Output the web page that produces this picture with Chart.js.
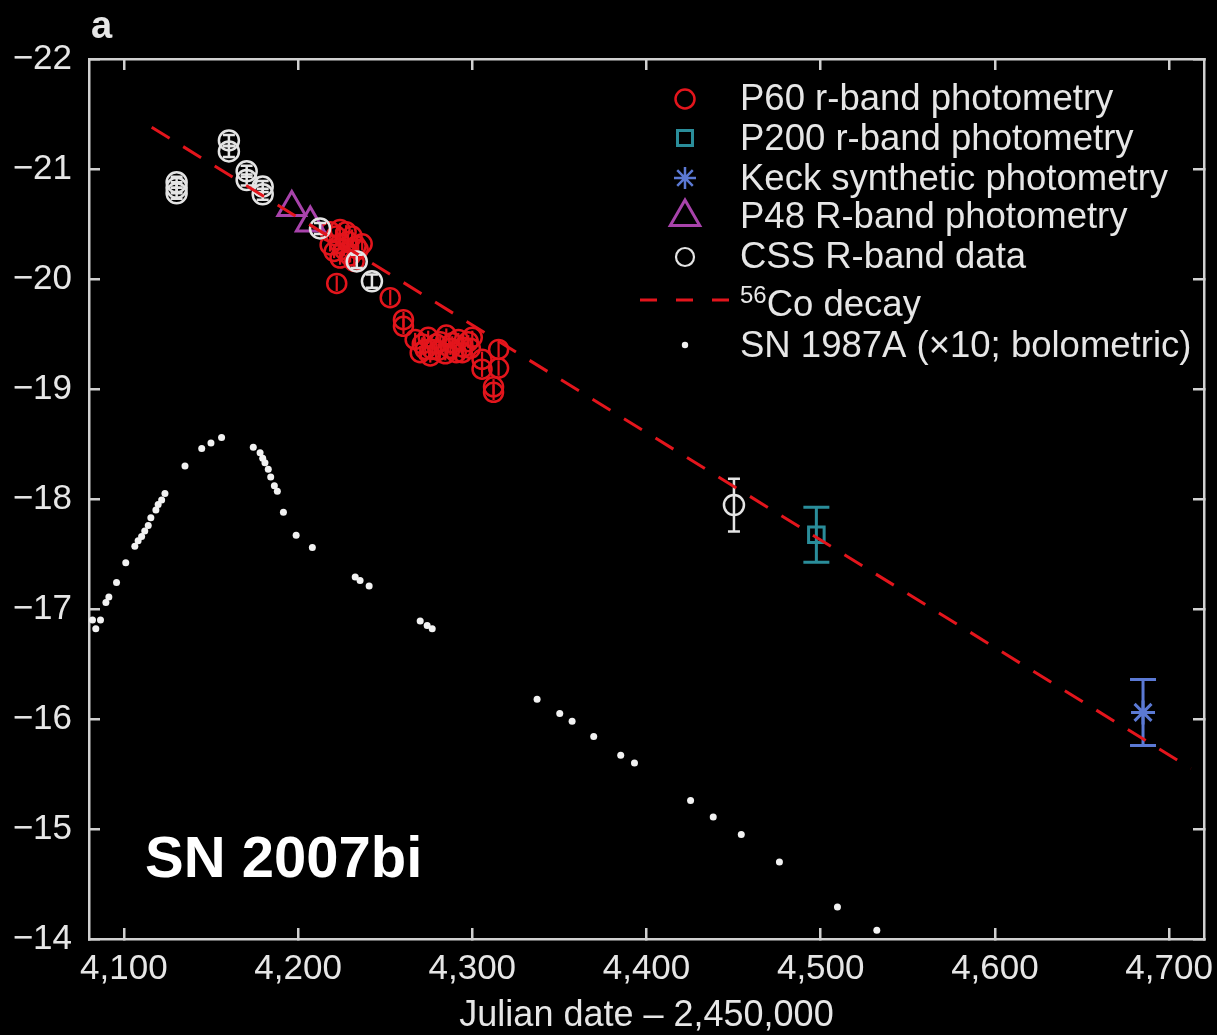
<!DOCTYPE html>
<html>
<head>
<meta charset="utf-8">
<title>SN 2007bi light curve</title>
<script src="https://cdn.jsdelivr.net/npm/chart.js@4.4.0/dist/chart.umd.min.js"></script>
<style>
  html, body { margin: 0; padding: 0; background: #000; }
  canvas { display: block; }
</style>
</head>
<body>
<canvas id="lc" width="1217" height="1035"></canvas>
<script>
// Days are Julian date − 2,450,000; values are absolute magnitudes (brighter = more negative).

// P60 r-band photometry
const p60Day = [4218.4, 4221.8, 4224.1, 4227.6, 4231.0, 4228.7, 4224.1, 4218.4, 4220.7, 4226.4,
                4233.3, 4236.8, 4234.5, 4229.9, 4224.1, 4232.2, 4222.2, 4252.9, 4260.5, 4260.5,
                4267.2, 4271.3, 4274.7, 4277.0, 4281.6, 4285.1, 4288.5, 4292.0, 4294.8, 4297.7,
                4300.0, 4270.1, 4275.9, 4280.5, 4284.5, 4287.4, 4290.8, 4294.3, 4298.9, 4279.3,
                4273.0, 4305.6, 4305.6, 4315.1, 4315.1, 4312.2, 4312.2];
const p60Mag = [-20.43, -20.39, -20.45, -20.43, -20.39, -20.34, -20.32, -20.31, -20.25, -20.27,
                -20.30, -20.32, -20.27, -20.21, -20.19, -20.16, -19.96, -19.83, -19.63, -19.57,
                -19.45, -19.41, -19.47, -19.36, -19.43, -19.49, -19.42, -19.45, -19.38, -19.43,
                -19.47, -19.33, -19.30, -19.35, -19.32, -19.37, -19.33, -19.33, -19.37, -19.41,
                -19.36, -19.27, -19.18, -19.36, -19.19, -19.02, -18.97];
const p60Err = [0.06, 0.06, 0.06, 0.06, 0.06, 0.06, 0.06, 0.06, 0.06, 0.06,
                0.06, 0.06, 0.06, 0.06, 0.06, 0.06, 0.07, 0.07, 0.07, 0.07,
                0.06, 0.06, 0.06, 0.06, 0.06, 0.06, 0.06, 0.06, 0.06, 0.06,
                0.06, 0.06, 0.06, 0.06, 0.06, 0.06, 0.06, 0.06, 0.06, 0.06,
                0.06, 0.07, 0.07, 0.07, 0.07, 0.07, 0.07];

// P200 r-band photometry
const p200Day = [4497.5];
const p200Mag = [-17.675];
const p200Err = [0.25];

// Keck synthetic photometry
const keckDay = [4685.0];
const keckMag = [-16.06];
const keckErr = [0.30];

// P48 R-band photometry
const p48Day = [4196.4, 4207.0];
const p48Mag = [-20.65, -20.51];

// CSS R-band data
const cssDay = [4130.3, 4130.3, 4130.3, 4160.3, 4160.3, 4170.5, 4170.5, 4179.7, 4179.7,
                4212.6, 4233.7, 4242.4, 4450.2];
const cssMag = [-20.88, -20.83, -20.78, -21.26, -21.16, -20.98, -20.90, -20.84, -20.77,
                -20.46, -20.16, -19.98, -17.945];
const cssErr = [0.05, 0.05, 0.05, 0.05, 0.05, 0.05, 0.05, 0.05, 0.05,
                0.05, 0.06, 0.06, 0.24];

// 56Co decay line (end points)
const coDay = [4116.0, 4712.5];
const coMag = [-21.38, -15.55];

// SN 1987A (x10; bolometric)
const sn87Day = [4082.0, 4083.9, 4086.6, 4089.7, 4091.4, 4095.8, 4101.1, 4106.3, 4108.2, 4110.2,
                 4112.0, 4114.0, 4115.5, 4118.4, 4119.7, 4121.7, 4123.6, 4135.1, 4144.7, 4150.0,
                 4156.1, 4174.3, 4178.2, 4179.7, 4181.0, 4182.9, 4184.3, 4186.4, 4188.1, 4191.6,
                 4198.9, 4208.2, 4232.8, 4235.6, 4240.8, 4270.1, 4274.1, 4277.0, 4337.2, 4350.2,
                 4357.3, 4369.7, 4385.2, 4393.1, 4425.3, 4438.3, 4454.4, 4476.3, 4509.6, 4532.2];
const sn87Mag = [-16.90, -16.82, -16.90, -17.06, -17.11, -17.24, -17.42, -17.57, -17.62, -17.66,
                 -17.71, -17.76, -17.83, -17.90, -17.95, -17.99, -18.05, -18.30, -18.46, -18.51,
                 -18.56, -18.47, -18.42, -18.37, -18.33, -18.27, -18.20, -18.12, -18.07, -17.88,
                 -17.67, -17.56, -17.29, -17.26, -17.21, -16.89, -16.85, -16.82, -16.18, -16.05,
                 -15.98, -15.84, -15.67, -15.60, -15.26, -15.11, -14.95, -14.70, -14.29, -14.08];

// Axis ticks
const xTicks = [4100, 4200, 4300, 4400, 4500, 4600, 4700];
const xTickLabels = ['4,100', '4,200', '4,300', '4,400', '4,500', '4,600', '4,700'];
const yTicks = [-22, -21, -20, -19, -18, -17, -16, -15, -14];
const yTickLabels = ['\u221222', '\u221221', '\u221220', '\u221219', '\u221218', '\u221217', '\u221216', '\u221215', '\u221214'];

const legendLabels = ['P60 r-band photometry', 'P200 r-band photometry', 'Keck synthetic photometry',
                      'P48 R-band photometry', 'CSS R-band data', 'Co decay', 'SN 1987A (\u00d710; bolometric)'];

const RED = '#e3151c';
const TEAL = '#2a8d9a';
const BLUE = '#5b79d4';
const PURPLE = '#a843ab';
const WHITE = '#e4e4e4';
const AXIS = '#d0d0d0';
const TEXT = '#e6e6e6';
const FONT = '"Liberation Sans", Arial, Helvetica, sans-serif';

const pts = (xs, ys) => xs.map((x, i) => ({ x: x, y: ys[i] }));

// Vertical error bars, drawn right after their own dataset so stacking order is kept
const errorBarPlugin = {
  id: 'errorBars',
  afterDatasetDraw(chart, args) {
    const ds = chart.data.datasets[args.index];
    if (!ds.yErrors) return;
    const ctx = chart.ctx;
    const xs = chart.scales.x, ys = chart.scales.y;
    ctx.save();
    ctx.strokeStyle = ds.borderColor;
    ctx.lineWidth = ds.errorWidth || 2.5;
    ds.data.forEach((p, i) => {
      const e = ds.yErrors[i];
      const px = xs.getPixelForValue(p.x);
      const y1 = ys.getPixelForValue(p.y - e);
      const y2 = ys.getPixelForValue(p.y + e);
      ctx.beginPath();
      ctx.moveTo(px, y1);
      ctx.lineTo(px, y2);
      const c = ds.capHalf || 0;
      if (c > 0) {
        ctx.moveTo(px - c, y1); ctx.lineTo(px + c, y1);
        ctx.moveTo(px - c, y2); ctx.lineTo(px + c, y2);
      }
      ctx.stroke();
    });
    ctx.restore();
  }
};

// Panel letter, object name and the key
const annotationPlugin = {
  id: 'annotations',
  afterDraw(chart) {
    const ctx = chart.ctx;
    ctx.save();
    ctx.fillStyle = TEXT;
    ctx.textBaseline = 'alphabetic';
    ctx.textAlign = 'left';
    ctx.font = 'bold 38px ' + FONT;
    ctx.fillText('a', 91, 38);

    ctx.fillStyle = '#ffffff';
    ctx.font = 'bold 58px ' + FONT;
    ctx.fillText('SN 2007bi', 145, 877);

    // key
    const mx = 685, tx = 740;
    const rows = [99, 138, 178, 217, 257, 300, 345];
    const base = [110, 150, 190, 228, 268, 316, 357];
    ctx.lineWidth = 2.5;
    // P60 circle
    ctx.strokeStyle = RED;
    ctx.beginPath(); ctx.arc(mx, rows[0], 9.5, 0, Math.PI * 2); ctx.stroke();
    // P200 square
    ctx.strokeStyle = TEAL; ctx.lineWidth = 3;
    ctx.strokeRect(mx - 7.5, rows[1] - 7.5, 15, 15);
    // Keck star
    ctx.strokeStyle = BLUE; ctx.lineWidth = 2.5;
    ctx.beginPath();
    for (let k = 0; k < 4; k++) {
      const a = k * Math.PI / 4;
      ctx.moveTo(mx - 11 * Math.cos(a), rows[2] - 11 * Math.sin(a));
      ctx.lineTo(mx + 11 * Math.cos(a), rows[2] + 11 * Math.sin(a));
    }
    ctx.stroke();
    // P48 triangle
    ctx.strokeStyle = PURPLE; ctx.lineWidth = 3;
    const r = 17;
    ctx.beginPath();
    ctx.moveTo(mx, rows[3] - r);
    ctx.lineTo(mx + r * Math.sin(Math.PI / 3), rows[3] + r / 2);
    ctx.lineTo(mx - r * Math.sin(Math.PI / 3), rows[3] + r / 2);
    ctx.closePath(); ctx.stroke();
    // CSS circle
    ctx.strokeStyle = WHITE; ctx.lineWidth = 2.2;
    ctx.beginPath(); ctx.arc(mx, rows[4], 9, 0, Math.PI * 2); ctx.stroke();
    // Co decay dashes
    ctx.strokeStyle = RED; ctx.lineWidth = 3;
    ctx.setLineDash([17, 19]);
    ctx.beginPath(); ctx.moveTo(640, rows[5]); ctx.lineTo(730, rows[5]); ctx.stroke();
    ctx.setLineDash([]);
    // SN 1987A dot
    ctx.fillStyle = '#f2f2f2';
    ctx.beginPath(); ctx.arc(mx, rows[6], 3.2, 0, Math.PI * 2); ctx.fill();

    ctx.fillStyle = TEXT;
    ctx.font = '36.5px ' + FONT;
    legendLabels.forEach((t, i) => {
      if (i === 5) {
        ctx.font = '24px ' + FONT;
        ctx.fillText('56', tx, base[i] - 13);
        const w = ctx.measureText('56').width;
        ctx.font = '36.5px ' + FONT;
        ctx.fillText(t, tx + w, base[i]);
      } else {
        ctx.fillText(t, tx, base[i]);
      }
    });
    ctx.restore();
  }
};

const tickSetterX = (s) => { s.ticks = xTicks.map(v => ({ value: v })); };
const tickSetterY = (s) => { s.ticks = yTicks.map(v => ({ value: v })); };

const frameGrid = { drawOnChartArea: false, drawTicks: true, tickLength: -11, color: AXIS, lineWidth: 2.5 };
const frameBorder = { display: true, color: AXIS, width: 2.5 };

new Chart(document.getElementById('lc'), {
  type: 'scatter',
  data: {
    datasets: [
      {
        label: '56Co decay', data: pts(coDay, coMag), showLine: true,
        borderColor: RED, borderWidth: 3, borderDash: [21, 16], pointRadius: 0, fill: false
      },
      {
        label: 'CSS R-band data', data: pts(cssDay, cssMag),
        pointStyle: 'circle', pointRadius: 10, borderColor: WHITE, borderWidth: 2.5,
        backgroundColor: 'rgba(0,0,0,0)', yErrors: cssErr, capHalf: 6, errorWidth: 2.5
      },
      {
        label: 'P48 R-band photometry', data: pts(p48Day, p48Mag),
        pointStyle: 'triangle', pointRadius: 16, borderColor: PURPLE, borderWidth: 3,
        backgroundColor: 'rgba(0,0,0,0)'
      },
      {
        label: 'P60 r-band photometry', data: pts(p60Day, p60Mag),
        pointStyle: 'circle', pointRadius: 9.5, borderColor: RED, borderWidth: 2.5,
        backgroundColor: 'rgba(0,0,0,0)', yErrors: p60Err, capHalf: 0, errorWidth: 2.2
      },
      {
        label: 'P200 r-band photometry', data: pts(p200Day, p200Mag),
        pointStyle: 'rect', pointRadius: 11, borderColor: TEAL, borderWidth: 3,
        backgroundColor: 'rgba(0,0,0,0)', yErrors: p200Err, capHalf: 13, errorWidth: 3
      },
      {
        label: 'Keck synthetic photometry', data: pts(keckDay, keckMag),
        pointStyle: 'star', pointRadius: 12, borderColor: BLUE, borderWidth: 3,
        backgroundColor: 'rgba(0,0,0,0)', yErrors: keckErr, capHalf: 13, errorWidth: 3
      },
      {
        label: 'SN 1987A (\u00d710; bolometric)', data: pts(sn87Day, sn87Mag),
        pointStyle: 'circle', pointRadius: 3.5, borderWidth: 0, backgroundColor: '#f2f2f2'
      }
    ]
  },
  options: {
    responsive: false,
    devicePixelRatio: 1,
    animation: false,
    events: [],
    layout: { autoPadding: false, padding: { top: 59, right: 13, left: 0, bottom: 0 } },
    plugins: { legend: { display: false }, tooltip: { enabled: false }, title: { display: false } },
    scales: {
      x: {
        type: 'linear', position: 'bottom', min: 4080, max: 4720,
        afterBuildTicks: tickSetterX,
        afterFit: (s) => { s.height = 96; s.paddingLeft = 0; s.paddingRight = 0; },
        grid: frameGrid, border: frameBorder,
        ticks: {
          color: TEXT, font: { family: FONT, size: 35 }, padding: 20, maxRotation: 0, autoSkip: false,
          callback: (v) => xTickLabels[xTicks.indexOf(v)]
        },
        title: {
          display: true, text: 'Julian date \u2013 2,450,000', color: TEXT,
          font: { family: FONT, size: 36, lineHeight: 1 }, padding: { top: 0, bottom: 1 }
        }
      },
      x2: {
        type: 'linear', position: 'top', min: 4080, max: 4720,
        afterBuildTicks: tickSetterX,
        afterFit: (s) => { s.height = 0; s.paddingLeft = 0; s.paddingRight = 0; },
        grid: frameGrid, border: frameBorder,
        ticks: { display: false }
      },
      y: {
        type: 'linear', position: 'left', min: -22, max: -14, reverse: true,
        afterBuildTicks: tickSetterY,
        afterFit: (s) => { s.width = 89; s.paddingTop = 0; s.paddingBottom = 0; },
        grid: frameGrid, border: frameBorder,
        ticks: {
          color: TEXT, font: { family: FONT, size: 35 }, padding: 28, autoSkip: false,
          callback: (v) => yTickLabels[yTicks.indexOf(v)]
        }
      },
      y2: {
        type: 'linear', position: 'right', min: -22, max: -14, reverse: true,
        afterBuildTicks: tickSetterY,
        afterFit: (s) => { s.width = 0; s.paddingTop = 0; s.paddingBottom = 0; },
        grid: frameGrid, border: frameBorder,
        ticks: { display: false }
      }
    }
  },
  plugins: [errorBarPlugin, annotationPlugin]
});
</script>
</body>
</html>
